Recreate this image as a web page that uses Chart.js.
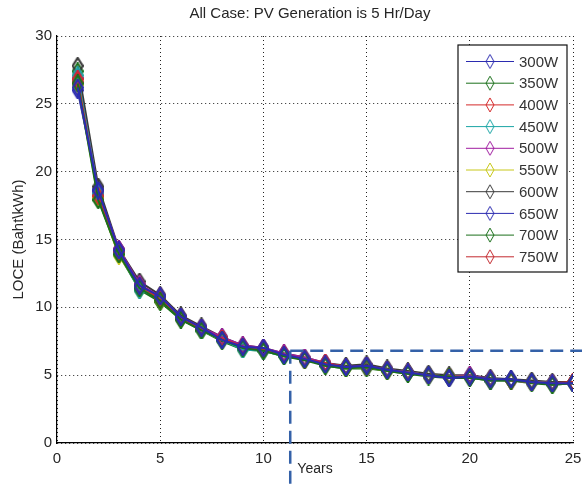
<!DOCTYPE html>
<html>
<head>
<meta charset="utf-8">
<script src="https://cdn.jsdelivr.net/npm/chart.js@4/dist/chart.umd.min.js"></script>
<style>
  html, body { margin: 0; padding: 0; background: #fff; }
</style>
</head>
<body>
<canvas id="chart" width="582" height="487"></canvas>
<script>
'use strict';

// years on the x axis
const YEARS = [1, 2, 3, 4, 5, 6, 7, 8, 9, 10, 11, 12, 13, 14, 15, 16, 17, 18, 19, 20, 21, 22, 23, 24, 25];

const LABELS = ['300W', '350W', '400W', '450W', '500W', '550W', '600W', '650W', '700W', '750W'];

// LOCE (Baht\kWh), one array per panel size
const LOCE_300 = [26.2, 18.6, 14.2, 11.6, 10.8, 9.3, 8.5, 7.6, 7.1, 7.0, 6.5, 6.2, 5.8, 5.6, 5.7, 5.4, 5.2, 5.0, 4.8, 4.9, 4.7, 4.7, 4.5, 4.4, 4.4];
const LOCE_350 = [26.5, 17.9, 13.9, 11.4, 10.5, 9.1, 8.3, 7.6, 7.0, 6.8, 6.4, 6.1, 5.7, 5.5, 5.6, 5.3, 5.1, 5.0, 4.9, 4.8, 4.6, 4.6, 4.5, 4.3, 4.4];
const LOCE_400 = [26.8, 18.2, 14.1, 11.6, 10.6, 9.2, 8.4, 7.7, 7.1, 6.9, 6.5, 6.2, 5.9, 5.6, 5.6, 5.4, 5.2, 5.0, 4.9, 4.9, 4.7, 4.6, 4.5, 4.4, 4.5];
const LOCE_450 = [27.1, 18.4, 14.0, 11.3, 10.7, 9.2, 8.3, 7.6, 6.9, 6.8, 6.4, 6.2, 5.8, 5.6, 5.6, 5.4, 5.2, 5.0, 4.9, 4.9, 4.7, 4.6, 4.5, 4.4, 4.4];
const LOCE_500 = [26.9, 18.5, 14.3, 11.7, 10.8, 9.3, 8.5, 7.8, 7.2, 7.0, 6.6, 6.3, 5.9, 5.6, 5.7, 5.4, 5.2, 5.0, 4.9, 5.0, 4.7, 4.6, 4.5, 4.4, 4.4];
const LOCE_550 = [26.4, 18.1, 13.8, 11.5, 10.5, 9.2, 8.3, 7.6, 7.0, 6.9, 6.5, 6.2, 5.8, 5.5, 5.6, 5.3, 5.2, 5.0, 4.9, 4.9, 4.7, 4.6, 4.5, 4.4, 4.4];
const LOCE_600 = [27.8, 18.9, 14.3, 11.9, 10.9, 9.4, 8.6, 7.8, 7.2, 7.0, 6.6, 6.3, 5.9, 5.7, 5.8, 5.5, 5.3, 5.1, 5.0, 5.0, 4.8, 4.7, 4.6, 4.5, 4.5];
const LOCE_650 = [26.0, 18.7, 14.0, 11.6, 10.8, 9.3, 8.4, 7.6, 7.1, 7.0, 6.5, 6.2, 5.8, 5.6, 5.7, 5.4, 5.2, 5.0, 4.8, 4.9, 4.6, 4.7, 4.5, 4.4, 4.4];
const LOCE_700 = [27.4, 18.0, 13.9, 11.3, 10.4, 9.1, 8.3, 7.5, 6.9, 6.8, 6.4, 6.2, 5.7, 5.5, 5.5, 5.3, 5.1, 4.9, 4.8, 4.8, 4.6, 4.6, 4.4, 4.3, 4.4];
const LOCE_750 = [26.6, 18.3, 14.1, 11.5, 10.5, 9.2, 8.4, 7.7, 7.0, 6.9, 6.6, 6.1, 5.8, 5.6, 5.6, 5.4, 5.2, 5.0, 4.9, 4.9, 4.7, 4.6, 4.5, 4.4, 4.5];

const SERIES = [LOCE_300, LOCE_350, LOCE_400, LOCE_450, LOCE_500, LOCE_550, LOCE_600, LOCE_650, LOCE_700, LOCE_750];

// matlab-style colour order
const COLORS = ['#2b2bb0', '#1b701b', '#d42a2a', '#1aa5a5', '#a01ca0', '#c8c81a', '#3a3a3a', '#2b2bb0', '#1b701b', '#c42a30'];

const X_TICKS = [0, 5, 10, 15, 20, 25];
const Y_TICKS = [0, 5, 10, 15, 20, 25, 30];

// the dashed guide marks (year, LOCE)
const GUIDE_YEAR = 11.3;
const GUIDE_LOCE = 6.8;

const TITLE = 'All Case: PV Generation is 5 Hr/Day';
const FONT = '"Liberation Sans", Arial, sans-serif';
const TEXT = '#262626';

// tall hollow diamond, like the matlab 'd' marker in the picture
function diamond(color, w, h, lw) {
  const c = document.createElement('canvas');
  c.width = w + 2;
  c.height = h + 2;
  const g = c.getContext('2d');
  g.strokeStyle = color;
  g.lineWidth = lw;
  g.beginPath();
  g.moveTo(c.width / 2, 1);
  g.lineTo(c.width - 1, c.height / 2);
  g.lineTo(c.width / 2, c.height - 1);
  g.lineTo(1, c.height / 2);
  g.closePath();
  g.stroke();
  return c;
}

const datasets = SERIES.map((vals, i) => ({
  label: LABELS[i],
  data: vals.map((v, j) => ({ x: YEARS[j], y: v })),
  borderColor: COLORS[i],
  backgroundColor: COLORS[i],
  borderWidth: 2,
  pointStyle: diamond(COLORS[i], 10, 16, 2.2),
  pointRadius: 6,
  tension: 0,
  fill: false
}));

const extras = {
  id: 'extras',
  afterDatasetsDraw(chart) {
    const { ctx, scales: { x, y } } = chart;
    const gx = x.getPixelForValue(GUIDE_YEAR);
    const gy = y.getPixelForValue(GUIDE_LOCE);
    ctx.save();
    ctx.strokeStyle = '#3461a8';
    ctx.lineWidth = 2.5;
    ctx.setLineDash([13, 7]);
    ctx.beginPath();
    ctx.moveTo(gx, gy);
    ctx.lineTo(chart.width, gy);
    ctx.moveTo(gx, gy);
    ctx.lineTo(gx, chart.height);
    ctx.stroke();
    ctx.restore();
  },
  afterDraw(chart) {
    const { ctx, chartArea } = chart;
    ctx.save();
    // title
    ctx.fillStyle = TEXT;
    ctx.font = '15px ' + FONT;
    ctx.textAlign = 'center';
    ctx.textBaseline = 'middle';
    ctx.fillText(TITLE, (chartArea.left + chartArea.right) / 2 - 5, 14);

    // legend box, top right inside the axes
    const boxR = chartArea.right - 6;
    const boxL = boxR - 109;
    const boxT = chartArea.top + 9;
    const step = 21.7;
    const boxB = boxT + step * LABELS.length + 10;
    ctx.fillStyle = '#fff';
    ctx.fillRect(boxL, boxT, boxR - boxL, boxB - boxT);
    ctx.strokeStyle = '#111';
    ctx.lineWidth = 1.2;
    ctx.strokeRect(boxL, boxT, boxR - boxL, boxB - boxT);
    ctx.font = '15px ' + FONT;
    ctx.textAlign = 'left';
    LABELS.forEach((lab, i) => {
      const cy = boxT + 16.5 + i * step;
      ctx.strokeStyle = COLORS[i];
      ctx.lineWidth = 1;
      ctx.beginPath();
      ctx.moveTo(boxL + 8, cy);
      ctx.lineTo(boxL + 56, cy);
      ctx.stroke();
      const m = diamond(COLORS[i], 8, 14, 1);
      ctx.drawImage(m, boxL + 32 - m.width / 2, cy - m.height / 2);
      ctx.fillStyle = '#333';
      ctx.fillText(lab, boxL + 61, cy + 1);
    });
    ctx.restore();
  }
};

new Chart(document.getElementById('chart'), {
  type: 'line',
  data: { datasets },
  options: {
    responsive: false,
    animation: false,
    layout: { padding: { top: 36, right: 0, left: 0, bottom: 0 } },
    plugins: {
      legend: { display: false },
      title: { display: false },
      tooltip: { enabled: false }
    },
    scales: {
      x: {
        type: 'linear',
        min: 0,
        max: 25,
        afterBuildTicks: s => { s.ticks = X_TICKS.map(v => ({ value: v })); },
        afterFit: s => { s.height = 44; s.paddingRight = 9; s.paddingLeft = 0; },
        ticks: { color: TEXT, font: { family: FONT, size: 15 }, padding: 7 },
        grid: { color: '#222', lineWidth: 1, drawTicks: false },
        border: { display: true, color: '#000', width: 1.2, dash: [1, 3] },
        title: { display: true, text: 'Years', color: TEXT, font: { family: FONT, size: 14 }, padding: { top: 0, bottom: 9 } }
      },
      y: {
        type: 'linear',
        min: 0,
        max: 30,
        afterBuildTicks: s => { s.ticks = Y_TICKS.map(v => ({ value: v })); },
        afterFit: s => { s.width = 57; },
        ticks: { color: TEXT, font: { family: FONT, size: 15 }, padding: 5 },
        grid: { color: '#222', lineWidth: 1, drawTicks: false },
        border: { display: true, color: '#000', width: 1.2, dash: [1, 3] },
        title: { display: true, text: 'LOCE (Baht\\kWh)', color: TEXT, font: { family: FONT, size: 15 }, padding: { top: 10, bottom: 0 } }
      }
    }
  },
  plugins: [extras]
});
</script>
</body>
</html>
